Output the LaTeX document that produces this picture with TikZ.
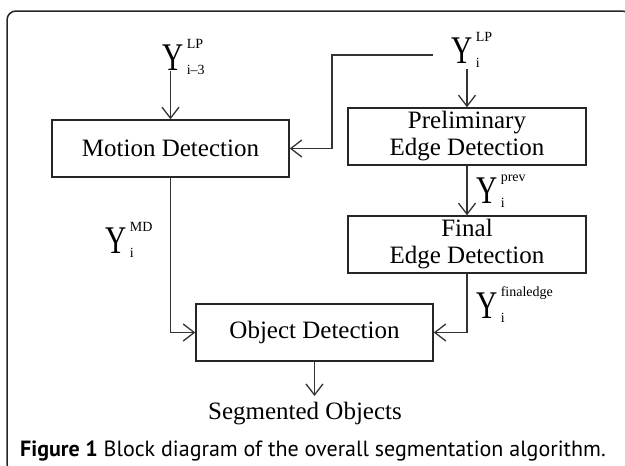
\documentclass[tikz,border=0pt]{standalone}
\usepackage{fontspec}
\usepackage{graphicx}
\setmainfont{Liberation Serif}
\newfontfamily\capfont{PT Sans}
\usetikzlibrary{arrows.meta,calc}

\newcommand\supfont{\fontsize{14}{14}\selectfont}
\newcommand\bigY{\scalebox{1.05}[1.4]{\fontsize{28}{28}\selectfont Y}}
% signal label: stretched "Y" with superscript and subscript nodes
% #1 name, #2 position of the Y baseline (left), #3 superscript, #4 subscript
\newcommand\Ysig[4]{%
  \node[ylabel] (#1) at (#2) {\bigY};
  \node[ylabel, font=\supfont] (#1-sup) at ([xshift=3pt,yshift=22pt]#1.base east) {#3};
  \node[ylabel, font=\supfont] (#1-sub) at ([xshift=3pt,yshift=-4pt]#1.base east) {#4};}

\tikzset{
  blockbox/.style={draw=black!85, line width=1.5pt, minimum width=237pt,
    minimum height=57pt, inner sep=0pt, align=center,
    font=\fontsize{25}{27}\selectfont},
  conn/.style={draw=black!80, line width=1.5pt,
    -{Straight Barb[length=11pt,width=17pt,line width=1.3pt]}},
  ylabel/.style={anchor=base west, inner sep=0pt}
}

\begin{document}
\begin{tikzpicture}[x=1pt,y=-1pt]
\useasboundingbox (0,0) rectangle (625,466);

% outer frame
\draw[black!85, line width=1.5pt, rounded corners=9pt] (7,11) rectangle (631,473);

% blocks
\node[blockbox] (md) at (170.5,148.5) {Motion Detection};
\node[blockbox, minimum width=238pt] (pe) at (467,136.5) {Preliminary\\Edge Detection};
\node[blockbox, minimum width=238pt] (fe) at (467,244.5) {Final\\Edge Detection};
\node[blockbox] (od) at (314.5,332.5) {Object Detection};

% signal labels
\Ysig{ylp3}{162,70}{LP}{i–3}
\Ysig{ylpi}{451,63}{LP}{i}
\Ysig{yprev}{476,203}{prev}{i}
\Ysig{yfin}{476,318}{finaledge}{i}
\Ysig{ymd}{105,253}{MD}{i}

% connectors
\draw[conn] ([yshift=48pt]md.north) -- (md.north);
\draw[conn] ([yshift=38pt]pe.north) -- (pe.north);
\coordinate (fb) at (433,55);
\draw[conn] (fb) -| ([xshift=42pt]md.east) -- (md.east);
\draw[conn] (pe.south) -- (fe.north);
\draw[conn] (fe.south) |- (od.east);
\draw[conn] (md.south) |- (od.west);
\coordinate (so) at (314.5,396);
\draw[conn] (od.south) -- (so);

\node[anchor=base, inner sep=0pt, font=\fontsize{25}{27}\selectfont] (seg) at (305,419) {Segmented Objects};

% caption
\node[anchor=base west, inner sep=0pt, font=\capfont\fontsize{22}{24}\selectfont] (cap) at (20,456)
  {\textbf{Figure 1} Block diagram of the overall segmentation algorithm.};
\end{tikzpicture}
\end{document}
